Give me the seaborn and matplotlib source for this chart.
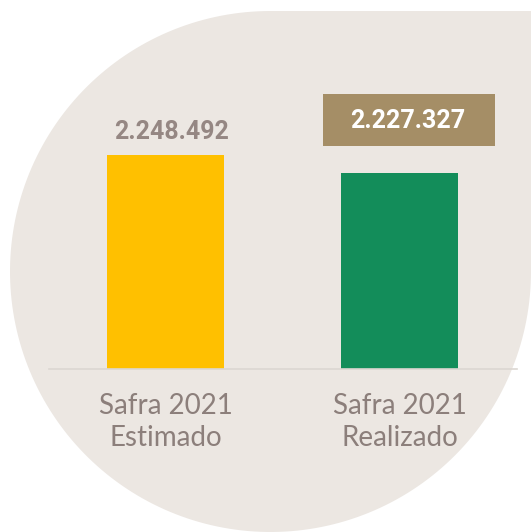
import numpy as np
import pandas as pd
import seaborn as sns
import matplotlib.pyplot as plt
from matplotlib.patches import Polygon, Rectangle

# Dados
categorias = ["Safra 2021\nEstimado", "Safra 2021\nRealizado"]
valores = [2248492, 2227327]
rotulos = ["2.248.492", "2.227.327"]
cores = ["#FFC000", "#138D5A"]

df = pd.DataFrame({"categoria": categorias, "valor": valores})

sns.set_theme(style="white")
plt.rcParams["font.family"] = ["Lato", "DejaVu Sans"]

fig = plt.figure(figsize=(5.31, 5.32), dpi=100)
fig.patch.set_facecolor("white")

# Fundo bege: circulo com o canto superior direito reto (em pixels)
W, H = 531, 532
cx, cy, r = 270.5, 260.5, 260.5
ang = np.linspace(np.pi / 2, 2 * np.pi, 200)
pts = [(cx + r * np.cos(a), cy + r * np.sin(a)) for a in ang]
pts += [(cx + r, cy + r), (cx, cy + r)]
pts = [(x / W, y / H) for x, y in pts]
fig.patches.append(Polygon(pts, closed=True, transform=fig.transFigure,
                           facecolor="#ECE7E2", edgecolor="none", zorder=-2))

ax = fig.add_axes([48.5 / W, 163 / H, 468 / W, 358 / H])
ax.set_facecolor("none")
ax.set_zorder(2)

sns.barplot(data=df, x="categoria", y="valor", hue="categoria",
            palette=cores, width=0.5, legend=False, ax=ax, saturation=1,
            linewidth=0)

ax.set_xlim(-0.5, 1.5)
ax.set_ylim(2000000, 2416000)
ax.set_xlabel("")
ax.set_ylabel("")
ax.set_yticks([])
for s in ["top", "left", "right"]:
    ax.spines[s].set_visible(False)
ax.spines["bottom"].set_color("#DCD7D2")
ax.spines["bottom"].set_linewidth(1.2)
ax.tick_params(axis="x", length=0, pad=17, labelsize=20, labelcolor="#8C7F7B")
for t in ax.get_xticklabels():
    t.set_linespacing(1.3)

# Rotulo do estimado
ax.annotate(rotulos[0], xy=(0, valores[0]), xytext=(4.5, 16.5),
            textcoords="offset points", ha="center", va="center",
            fontsize=18, fontweight="bold", color="#958783", family="Roboto")

# Rotulo do realizado com caixa
fig.canvas.draw()
px, py = ax.transData.transform((1, valores[1]))
bx, by = px + 9.5 - 86, py + 53 - 26
fig.patches.append(Rectangle((bx / W, by / H), 172 / W, 52 / H,
                             transform=fig.transFigure, facecolor="#A58E66",
                             edgecolor="none", zorder=1))
ax.annotate(rotulos[1], xy=(1, valores[1]), xytext=(6, 38),
            textcoords="offset points", ha="center", va="center",
            fontsize=18, fontweight="bold", color="white", family="Roboto",
            zorder=5)

fig.savefig("out.png", dpi=100)
